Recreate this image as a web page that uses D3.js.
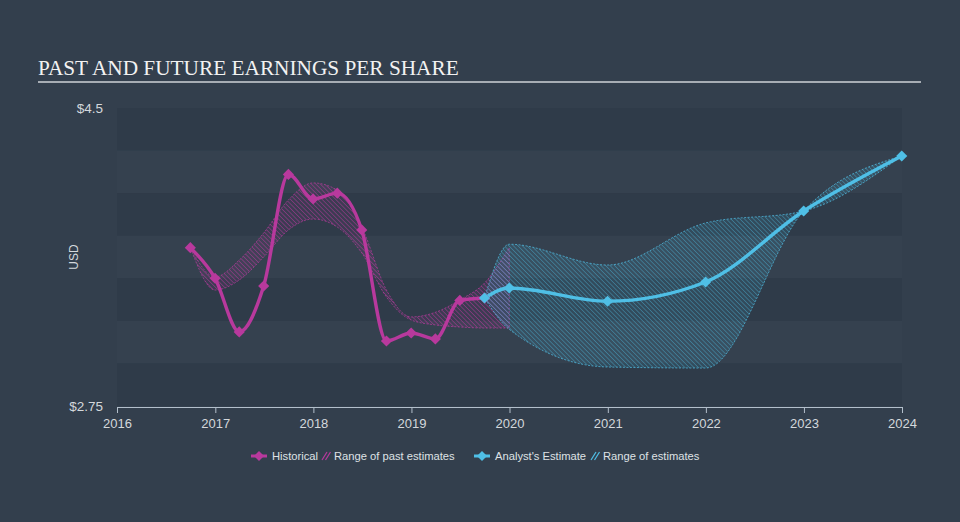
<!DOCTYPE html>
<html><head><meta charset="utf-8">
<script src="https://cdn.jsdelivr.net/npm/d3@7"></script>
<style>
html,body{margin:0;padding:0;background:#333f4d;}
svg{display:block;}
</style></head>
<body>
<svg id="chart" width="960" height="522"></svg>
<script>
// ---- data ----
const histDates = ["2016-09-30","2016-12-31","2017-03-31","2017-06-30","2017-09-30","2017-12-31","2018-03-31","2018-06-30","2018-09-30","2018-12-31","2019-03-31","2019-06-30","2019-09-30"];
const histEPS = [3.68,3.50,3.185,3.455,4.11,3.966,4.00,3.784,3.132,3.179,3.144,3.37,3.384];

const pastRangeDates = ["2016-09-30","2016-12-31","2017-03-31","2017-06-30","2017-09-30","2017-12-31","2018-03-31","2018-06-30","2018-09-30","2018-12-31","2019-03-31","2019-06-30","2019-09-30","2019-12-31"];
const pastRangeHigh = [3.68,3.508,3.607,3.766,3.96,4.06,4.018,3.801,3.431,3.273,3.30,3.373,3.472,3.68];
const pastRangeLow  = [3.68,3.431,3.49,3.625,3.784,3.848,3.801,3.649,3.39,3.255,3.226,3.214,3.208,3.208];

const estDates = ["2019-09-30","2019-12-31","2020-12-31","2021-12-31","2022-12-31","2023-12-31"];
const estEPS   = [3.384,3.443,3.365,3.478,3.895,4.218];
const estHigh  = [3.384,3.70,3.578,3.825,3.895,4.218];
const estLow   = [3.384,3.20,2.979,2.973,3.895,4.218];

const xTickLabels = ["2016","2017","2018","2019","2020","2021","2022","2023","2024"];
const yTickValues = [2.75,4.5];
const yTickLabels = ["$2.75","$4.5"];

const legendItems = ["Historical","Range of past estimates","Analyst's Estimate","Range of estimates"];

// ---- setup ----
const magenta = "#b8399d", blue = "#4fbfe6";
const svg = d3.select("#chart");
const parse = d3.timeParse("%Y-%m-%d");

const x = d3.scaleTime().domain([new Date(2016,0,1), new Date(2024,0,1)]).range([117, 902]);
const y = d3.scaleLinear().domain([2.75, 4.5]).range([406, 108]);

const defs = svg.append("defs");
function hatch(id, color, op, bgOp){
  const p = defs.append("pattern").attr("id", id).attr("patternUnits","userSpaceOnUse")
    .attr("width", 3.2).attr("height", 3.2).attr("patternTransform","rotate(-45)");
  p.append("rect").attr("width",3.2).attr("height",3.2).attr("fill",color).attr("fill-opacity",bgOp);
  p.append("line").attr("x1",0).attr("y1",0).attr("x2",0).attr("y2",3.2)
    .attr("stroke",color).attr("stroke-width",1.2).attr("stroke-opacity",op);
}
hatch("hatchPink", magenta, 0.75, 0.1);
hatch("hatchBlue", blue, 0.55, 0.12);

// title
svg.append("text").attr("x",38).attr("y",75).text("PAST AND FUTURE EARNINGS PER SHARE")
  .attr("font-family","'Liberation Serif','Times New Roman',serif").attr("font-size",21.3)
  .attr("fill","#f2f2f2");
svg.append("line").attr("x1",38).attr("x2",921).attr("y1",82).attr("y2",82)
  .attr("stroke","#a7adb4").attr("stroke-width",2);

// stripes
const bandVals = d3.range(0,7).map(i => 4.5 - i*0.25);
svg.append("g").selectAll("rect").data(bandVals).join("rect")
  .attr("x", x.range()[0]).attr("width", x.range()[1]-x.range()[0])
  .attr("y", d => y(d)).attr("height", d => y(d-0.25)-y(d))
  .attr("fill", (d,i) => i%2===0 ? "#2f3b49" : "#35414f");

// y labels
svg.append("g").selectAll("text").data(yTickValues).join("text")
  .attr("x",103).attr("y", d => y(d)+5).attr("text-anchor","end")
  .attr("font-family","'Liberation Sans',Arial,sans-serif").attr("font-size",13.5)
  .attr("fill","#d4d8dc").text((d,i)=>yTickLabels[i]);
svg.append("text").attr("transform","translate(78,257) rotate(-90)").attr("text-anchor","middle")
  .attr("font-family","'Liberation Sans',Arial,sans-serif").attr("font-size",12).attr("fill","#d4d8dc").text("USD");

// x axis
const xAxis = d3.axisBottom(x)
  .tickValues(xTickLabels.map(s => new Date(+s,0,1)))
  .tickFormat((d,i)=>xTickLabels[i]).tickSize(6).tickSizeOuter(0);
const gx = svg.append("g").attr("transform","translate(0,407)").call(xAxis);
gx.select(".domain").attr("stroke","#b3bfcb");
gx.selectAll(".tick line").attr("stroke","#b3bfcb");
gx.selectAll(".tick text").attr("fill","#d4d8dc").attr("font-size",13)
  .attr("font-family","'Liberation Sans',Arial,sans-serif").attr("dy","0.9em");

// bands
const areaGen = d3.area().curve(d3.curveMonotoneX).x(d=>x(d.date)).y0(d=>y(d.lo)).y1(d=>y(d.hi));
const lineGen = d3.line().curve(d3.curveMonotoneX).x(d=>x(d.date)).y(d=>y(d.v));

const pastRange = pastRangeDates.map((s,i)=>({date:parse(s), hi:pastRangeHigh[i], lo:pastRangeLow[i]}));
const estRange = estDates.map((s,i)=>({date:parse(s), hi:estHigh[i], lo:estLow[i]}));
const hist = histDates.map((s,i)=>({date:parse(s), v:histEPS[i]}));
const est = estDates.map((s,i)=>({date:parse(s), v:estEPS[i]}));

svg.append("path").datum(pastRange).attr("d",areaGen).attr("fill","url(#hatchPink)")
  .attr("stroke",magenta).attr("stroke-width",0.8).attr("stroke-dasharray","2,1.5").attr("stroke-opacity",0.9);
svg.append("path").datum(estRange).attr("d",areaGen).attr("fill","url(#hatchBlue)")
  .attr("stroke",blue).attr("stroke-width",0.8).attr("stroke-dasharray","2,1.5").attr("stroke-opacity",0.9);

// lines
svg.append("path").datum(hist).attr("d",lineGen).attr("fill","none").attr("stroke",magenta).attr("stroke-width",3.4);
svg.append("path").datum(est).attr("d",lineGen).attr("fill","none").attr("stroke",blue).attr("stroke-width",3.4);

const sq = d3.symbol().type(d3.symbolSquare).size(62);
function markers(data, color){
  svg.append("g").selectAll("path").data(data).join("path")
    .attr("transform", d => `translate(${x(d.date)},${y(d.v)}) rotate(45)`)
    .attr("d", sq).attr("fill", color);
}
markers(hist, magenta);
markers(est, blue);

// legend
const lg = svg.append("g").attr("font-family","'Liberation Sans',Arial,sans-serif").attr("font-size",11.2).attr("fill","#dfe2e5");
const sqL = d3.symbol().type(d3.symbolSquare).size(50);
function legendLine(cx, color){
  lg.append("line").attr("x1",cx-8).attr("x2",cx+8).attr("y1",456).attr("y2",456).attr("stroke",color).attr("stroke-width",3);
  lg.append("path").attr("d",sqL).attr("transform",`translate(${cx},456) rotate(45)`).attr("fill",color);
}
function legendHatch(x0, color){
  for(let k=0;k<2;k++){
    lg.append("line").attr("x1",x0+k*3.5).attr("y1",460).attr("x2",x0+k*3.5+5).attr("y2",452)
      .attr("stroke",color).attr("stroke-width",1.2);
  }
}
legendLine(259, magenta);
lg.append("text").attr("x",272).attr("y",460).text(legendItems[0]);
legendHatch(322, magenta);
lg.append("text").attr("x",334).attr("y",460).text(legendItems[1]);
legendLine(482, blue);
lg.append("text").attr("x",495).attr("y",460).text(legendItems[2]);
legendHatch(591, blue);
lg.append("text").attr("x",603).attr("y",460).text(legendItems[3]);
</script>
</body></html>
